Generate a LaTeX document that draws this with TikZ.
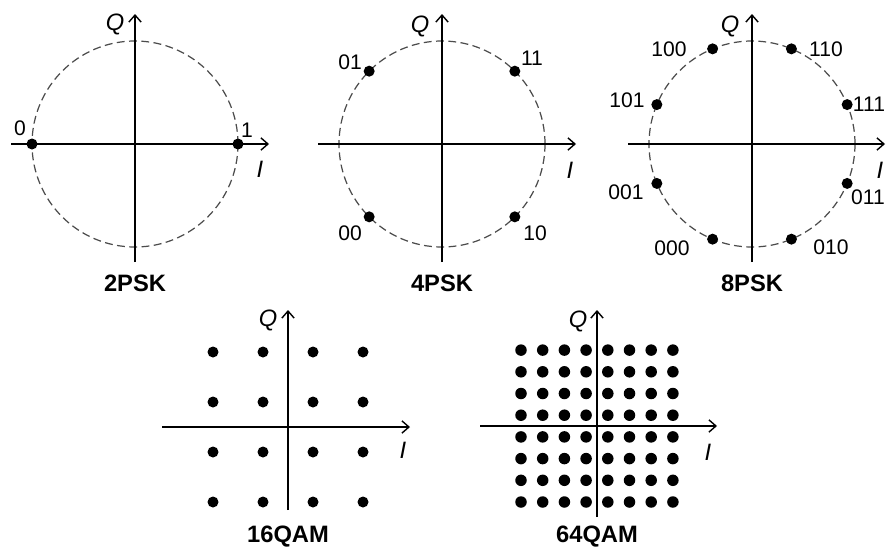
\documentclass[tikz,border=0pt]{standalone}
\usepackage{fontspec}
\setmainfont{Liberation Sans}
\usepackage{tikz}
\usetikzlibrary{arrows.meta}
\tikzset{axis/.style = {line width = 0.8pt, -{Straight Barb[length=4pt, width=7pt]}}}
\tikzset{ring/.style = {dashed, dash pattern = on 4.5pt off 2.5pt, line width = 0.7pt, black!70}}
\tikzset{circ/.style = {fill, circle, inner sep = 0, minimum size = 0.22cm}}
\tikzset{bits/.style = {inner sep = 0, font = \fontsize{12}{14}\selectfont}}
\tikzset{axlbl/.style = {inner sep = 0, font = \fontsize{13.5}{15}\selectfont\itshape}}
\tikzset{ttl/.style = {inner sep = 0, font = \fontsize{13.5}{16}\selectfont\bfseries}}

\begin{document}
\begin{tikzpicture}[x = 0.02cm, y = 0.02cm]
        \useasboundingbox (0, 0) rectangle (889, 549);

        % 2PSK
        \begin{scope}[shift = {(135, 405)}]
          \coordinate (psk2-w) at (-124, 0);
          \coordinate (psk2-e) at (134, 0);
          \coordinate (psk2-s) at (0, -118);
          \coordinate (psk2-n) at (0, 130);
          \draw [ring] (0, 0) circle [radius = 103];
          \draw [axis] (psk2-w) -- (psk2-e);
          \draw [axis] (psk2-s) -- (psk2-n);
          \node [circ] (psk2-0) at (180:103) {};
          \node [circ] (psk2-1) at (0:103) {};
          \node [bits] (psk2-0l) at (-115, 16) {0};
          \node [bits] (psk2-1l) at (112, 14) {1};
          \node [axlbl] (psk2-q) at (-20, 120) {Q};
          \node [axlbl] (psk2-i) at (125, -25) {I};
          \node [ttl] (psk2-t) at (0, -139) {2PSK};
        \end{scope}

        % 4PSK
        \begin{scope}[shift = {(442, 405)}]
          \coordinate (psk4-w) at (-124, 0);
          \coordinate (psk4-e) at (134, 0);
          \coordinate (psk4-s) at (0, -118);
          \coordinate (psk4-n) at (0, 130);
          \draw [ring] (0, 0) circle [radius = 103];
          \draw [axis] (psk4-w) -- (psk4-e);
          \draw [axis] (psk4-s) -- (psk4-n);
          \foreach \ang/\code/\lx/\ly in {45/11/90/86, 135/01/-92/82, 225/00/-92/-89, 315/10/93/-89} {
            \node [circ] (psk4-\code) at (\ang:103) {};
            \node [bits] (psk4-\code l) at (\lx, \ly) {\code};
          }
          \node [axlbl] (psk4-q) at (-22, 118) {Q};
          \node [axlbl] (psk4-i) at (128, -26) {I};
          \node [ttl] (psk4-t) at (0, -139) {4PSK};
        \end{scope}

        % 8PSK
        \begin{scope}[shift = {(752, 405)}]
          \coordinate (psk8-w) at (-124, 0);
          \coordinate (psk8-e) at (133, 0);
          \coordinate (psk8-s) at (0, -118);
          \coordinate (psk8-n) at (0, 130);
          \draw [ring] (0, 0) circle [radius = 103];
          \draw [axis] (psk8-w) -- (psk8-e);
          \draw [axis] (psk8-s) -- (psk8-n);
          \foreach \ang/\code/\lx/\ly in {22.5/111/117/40, 67.5/110/74/95, 112.5/100/-83/95,
                                         157.5/101/-125/44, 202.5/001/-126/-48, 247.5/000/-80/-104,
                                         292.5/010/79/-103, 337.5/011/116/-53} {
            \node [circ] (psk8-\code) at (\ang:103) {};
            \node [bits] (psk8-\code l) at (\lx, \ly) {\code};
          }
          \node [axlbl] (psk8-q) at (-22, 118) {Q};
          \node [axlbl] (psk8-i) at (128, -26) {I};
          \node [ttl] (psk8-t) at (0, -139) {8PSK};
        \end{scope}

        % 16QAM
        \begin{scope}[shift = {(288, 122)}]
          \coordinate (qam16-w) at (-126, 0);
          \coordinate (qam16-e) at (122, 0);
          \coordinate (qam16-s) at (0, -83);
          \coordinate (qam16-n) at (0, 117);
          \draw [axis] (qam16-w) -- (qam16-e);
          \draw [axis] (qam16-s) -- (qam16-n);
          \foreach \i in {0,...,3}
            \foreach \j in {0,...,3}
              \node [circ] (qam16-\i\j) at ({-75 + 50*\i}, {-75 + 50*\j}) {};
          \node [axlbl] (qam16-q) at (-20, 107) {Q};
          \node [axlbl] (qam16-i) at (115, -23) {I};
          \node [ttl] (qam16-t) at (0, -110) {16QAM};
        \end{scope}

        % 64QAM
        \begin{scope}[shift = {(597, 123)}]
          \coordinate (qam64-w) at (-117, 0);
          \coordinate (qam64-e) at (120, 0);
          \coordinate (qam64-s) at (0, -91);
          \coordinate (qam64-n) at (0, 116);
          \draw [axis] (qam64-w) -- (qam64-e);
          \draw [axis] (qam64-s) -- (qam64-n);
          \foreach \i in {0,...,7}
            \foreach \j in {0,...,7}
              \node [circ, minimum size = 0.23cm] (qam64-\i\j) at ({-76 + 21.7*\i}, {-76 + 21.7*\j}) {};
          \node [axlbl] (qam64-q) at (-19, 105) {Q};
          \node [axlbl] (qam64-i) at (111, -26) {I};
          \node [ttl] (qam64-t) at (0, -111) {64QAM};
        \end{scope}
      \end{tikzpicture}
\end{document}
